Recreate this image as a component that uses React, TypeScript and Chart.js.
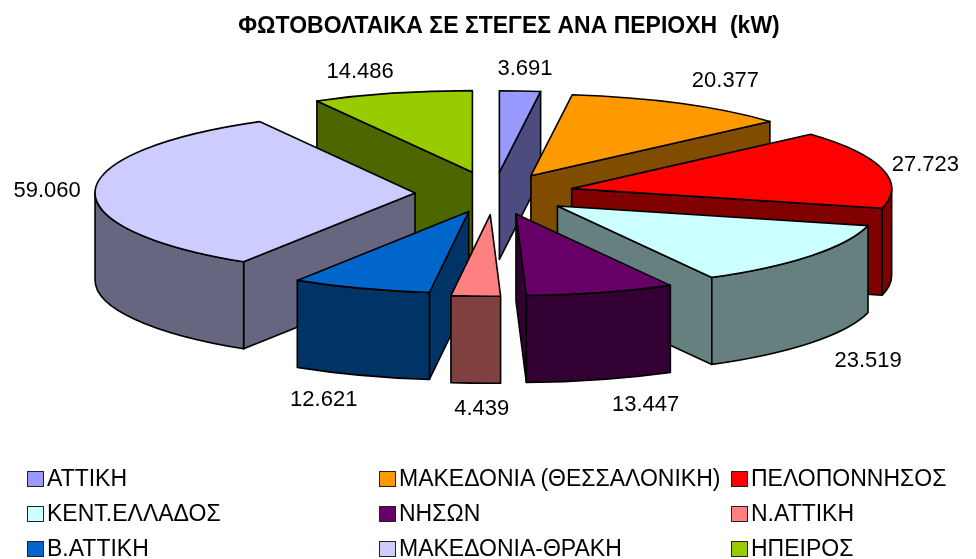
import React, { useEffect, useRef } from "react";
import { Chart, registerables } from "chart.js";

Chart.register(...registerables);

const TITLE = "ΦΩΤΟΒΟΛΤΑΙΚΑ ΣΕ ΣΤΕΓΕΣ ΑΝΑ ΠΕΡΙΟΧΗ  (kW)";
const REGIONS = ["ΑΤΤΙΚΗ", "ΜΑΚΕΔΟΝΙΑ (ΘΕΣΣΑΛΟΝΙΚΗ)", "ΠΕΛΟΠΟΝΝΗΣΟΣ", "ΚΕΝΤ.ΕΛΛΑΔΟΣ", "ΝΗΣΩΝ", "Ν.ΑΤΤΙΚΗ", "Β.ΑΤΤΙΚΗ", "ΜΑΚΕΔΟΝΙΑ-ΘΡΑΚΗ", "ΗΠΕΙΡΟΣ"];
const KW = [3691, 20377, 27723, 23519, 13447, 4439, 12621, 59060, 14486];
const COLORS = ["#9999FF", "#FF9900", "#FF0000", "#CCFFFF", "#660066", "#FF8080", "#0066CC", "#CCCCFF", "#99CC00"];
const SIDE_COLORS = ["#4C4C80", "#804C00", "#800000", "#668080", "#330033", "#804040", "#003366", "#666680", "#4C6600"];

const EXPLODE = [83, 79, 80, 80, 83, 83, 75, 79, 86];
const LABEL_SHIFT = [[5, -22], [45, -23], [43, -4], [57, 105], [45, 112], [6, 113], [-37, 112], [-48, 0], [-32, -21]];
const LEGEND_COLS = [27, 379, 731];
const LEGEND_ROWS = [478, 513, 548];

const CX = 494;
const CY = 193.5;
const K = 0.255;
const DEPTH = 87;
const RADIUS = 320;

const fmt = (v: number) => String(v).replace(/\B(?=(\d{3})+$)/g, ".");

const pie3d = {
  id: "pie3d",
  beforeDatasetDraw(chart: any, args: any) {
    const ctx = chart.ctx;
    const arcs: any[] = args.meta.data;
    const order = arcs
      .map((arc, i) => ({ arc, i, mid: (arc.startAngle + arc.endAngle) / 2 }))
      .sort((a, b) => Math.sin(a.mid) - Math.sin(b.mid));

    for (const { arc, i, mid } of order) {
      const d = EXPLODE[i];
      const ax = CX + Math.cos(mid) * d;
      const ay = CY + Math.sin(mid) * d * K;
      const R = arc.outerRadius;
      const pt = (a: number) => [ax + Math.cos(a) * R, ay + Math.sin(a) * R * K];
      const s = arc.startAngle;
      const e = arc.endAngle;
      const S = pt(s);
      const E = pt(e);
      ctx.save();
      ctx.lineWidth = 1.6;
      ctx.lineJoin = "round";
      ctx.strokeStyle = "#000";
      ctx.fillStyle = SIDE_COLORS[i];
      const quad = (P: number[]) => {
        ctx.beginPath();
        ctx.moveTo(ax, ay);
        ctx.lineTo(P[0], P[1]);
        ctx.lineTo(P[0], P[1] + DEPTH);
        ctx.lineTo(ax, ay + DEPTH);
        ctx.closePath();
        ctx.fill();
        ctx.stroke();
      };
      if (S[0] < ax) quad(S);
      if (E[0] > ax) quad(E);
      const a0 = Math.max(s, 0);
      const a1 = Math.min(e, Math.PI);
      if (a1 > a0) {
        ctx.beginPath();
        ctx.ellipse(ax, ay, R, R * K, 0, a0, a1);
        ctx.ellipse(ax, ay + DEPTH, R, R * K, 0, a1, a0, true);
        ctx.closePath();
        ctx.fill();
        ctx.stroke();
      }
      // top face: the library's arc, flattened and moved out along its mid-angle
      ctx.save();
      ctx.translate(ax, ay);
      ctx.scale(1, K);
      ctx.translate(-arc.x, -arc.y);
      arc.draw(ctx);
      ctx.restore();
      ctx.beginPath();
      ctx.moveTo(ax, ay);
      ctx.ellipse(ax, ay, R, R * K, 0, s, e);
      ctx.closePath();
      ctx.stroke();
      ctx.restore();
    }
    return false;
  },
  afterDraw(chart: any) {
    const ctx = chart.ctx;
    const arcs: any[] = chart.getDatasetMeta(0).data;
    ctx.save();
    ctx.font = "22px 'Liberation Sans'";
    ctx.fillStyle = "#000";
    ctx.textAlign = "center";
    ctx.textBaseline = "middle";
    arcs.forEach((arc, i) => {
      const mid = (arc.startAngle + arc.endAngle) / 2;
      const r = arc.outerRadius + EXPLODE[i];
      const x = CX + Math.cos(mid) * r + LABEL_SHIFT[i][0];
      const y = CY + Math.sin(mid) * r * K + LABEL_SHIFT[i][1];
      ctx.fillText(fmt(KW[i]), x, y);
    });
    ctx.restore();
  },
};

export default function App() {
  const ref = useRef<HTMLCanvasElement>(null);
  useEffect(() => {
    document.body.style.margin = "0";
    const chart = new Chart(ref.current!, {
      type: "pie",
      data: {
        labels: REGIONS,
        datasets: [{ data: KW, backgroundColor: COLORS, borderWidth: 0, radius: RADIUS } as any],
      },
      options: {
        animation: false,
        responsive: false,
        layout: { padding: { left: 42 } },
        plugins: {
          legend: { display: false },
          tooltip: { enabled: false },
          title: {
            display: true,
            text: TITLE,
            color: "#000",
            font: { family: "'Liberation Sans'", size: 23, weight: "bold" },
            padding: { top: 13, bottom: 10 },
          },
        },
      } as any,
      plugins: [pie3d],
    });
    return () => chart.destroy();
  }, []);
  return (
    <div style={{ position: "relative", width: 976, height: 559, overflow: "hidden", background: "#fff" }}>
      <canvas ref={ref} width={976} height={559} style={{ display: "block" }} />
      {REGIONS.map((name, i) => {
        const left = LEGEND_COLS[i % 3];
        const top = LEGEND_ROWS[Math.floor(i / 3)];
        return (
          <div key={name}>
            <div
              style={{
                position: "absolute",
                left,
                top: top - 7,
                width: 15,
                height: 14,
                background: COLORS[i],
                border: "1px solid #222",
              }}
            />
            <div
              style={{
                position: "absolute",
                left: left + 20,
                top: top - 14,
                font: "23px/28px 'Liberation Sans'",
                color: "#000",
                whiteSpace: "nowrap",
              }}
            >
              {name}
            </div>
          </div>
        );
      })}
    </div>
  );
}
